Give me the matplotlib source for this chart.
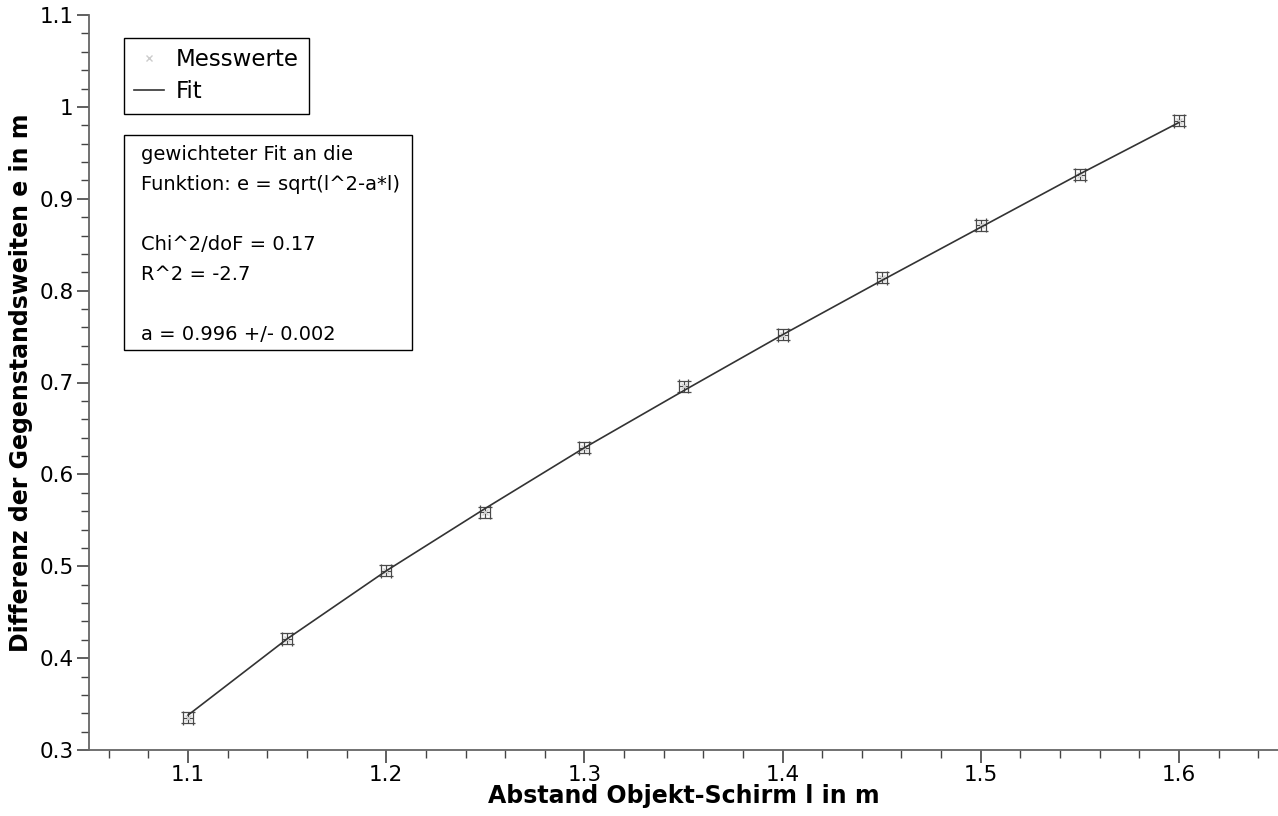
import matplotlib
matplotlib.use('Agg')
import matplotlib.pyplot as plt
from matplotlib.ticker import MultipleLocator
from matplotlib.patches import Rectangle

# Messwerte
abstand_l = [1.10, 1.15, 1.20, 1.25, 1.30, 1.35, 1.40, 1.45, 1.50, 1.55, 1.60]
differenz_e = [0.335, 0.421, 0.495, 0.559, 0.629, 0.696, 0.752, 0.814, 0.871, 0.926, 0.985]
fehler_l = [0.0025] * 11
fehler_e = [0.006] * 11

# Fitkurve
fit_l = [1.10, 1.15, 1.20, 1.25, 1.30, 1.35, 1.40, 1.45, 1.50, 1.55, 1.60]
fit_e = [0.338, 0.421, 0.495, 0.563, 0.629, 0.691, 0.752, 0.811, 0.869, 0.927, 0.983]

info_zeilen = ['gewichteter Fit an die', 'Funktion: e = sqrt(l^2-a*l)', '',
               'Chi^2/doF = 0.17', 'R^2 = -2.7', '', 'a = 0.996 +/- 0.002']

W, H = 1278, 816
fig = plt.figure(figsize=(W / 100, H / 100), dpi=100)
ax = fig.add_axes([89 / W, 1 - 750 / H, 1 - 89 / W, (750 - 15) / H])

ax.errorbar(abstand_l, differenz_e, xerr=fehler_l, yerr=fehler_e, fmt='none',
            ecolor='#4a4a4a', elinewidth=0.9, capsize=5, capthick=0.9, zorder=2)
ax.plot(abstand_l, differenz_e, 'x', color='#cccccc', markersize=4, label='Messwerte', zorder=3)
ax.plot(fit_l, fit_e, '-', color='#333333', linewidth=1.2, label='Fit', zorder=4)

ax.set_xlim(1.05, 1.65)
ax.set_ylim(0.3, 1.1)
ax.xaxis.set_minor_locator(MultipleLocator(0.02))
ax.yaxis.set_minor_locator(MultipleLocator(0.02))
ax.set_xticks([1.1, 1.2, 1.3, 1.4, 1.5, 1.6])
ax.set_xticklabels(['1.1', '1.2', '1.3', '1.4', '1.5', '1.6'])
ax.set_yticks([0.3, 0.4, 0.5, 0.6, 0.7, 0.8, 0.9, 1.0, 1.1])
ax.set_yticklabels(['0.3', '0.4', '0.5', '0.6', '0.7', '0.8', '0.9', '1', '1.1'])

for s in ['top', 'right']:
    ax.spines[s].set_visible(False)
for s in ['left', 'bottom']:
    ax.spines[s].set_color('#666666')
    ax.spines[s].set_linewidth(1.3)
ax.tick_params(which='major', direction='out', length=9, width=1.2, color='#444444',
               labelsize=15.5, pad=2)
ax.tick_params(which='minor', direction='out', length=6, width=1.0, color='#444444')

ax.set_xlabel('Abstand Objekt-Schirm l in m', fontsize=17, fontweight='bold', labelpad=-1)
ax.set_ylabel('Differenz der Gegenstandsweiten e in m', fontsize=17, fontweight='bold', labelpad=5)

leg = ax.legend(loc='upper left', bbox_to_anchor=(124 / W, 1 - 38 / H),
                bbox_transform=fig.transFigure, fontsize=16.5, frameon=True,
                fancybox=False, framealpha=1, edgecolor='black', borderaxespad=0,
                handlelength=1.3, handletextpad=0.5, borderpad=0.45, labelspacing=0.4)
leg.get_frame().set_linewidth(1.0)

# Infobox
fig.add_artist(Rectangle((124 / W, 1 - 350 / H), (412 - 124) / W, (350 - 135) / H,
                         transform=fig.transFigure, fill=True, facecolor='white',
                         edgecolor='black', linewidth=1.0, zorder=5))
for i, zeile in enumerate(info_zeilen):
    fig.text(141 / W, 1 - (155 + i * 30) / H, zeile, fontsize=14,
             va='center', ha='left', zorder=6)

fig.savefig('out.png', dpi=100)
